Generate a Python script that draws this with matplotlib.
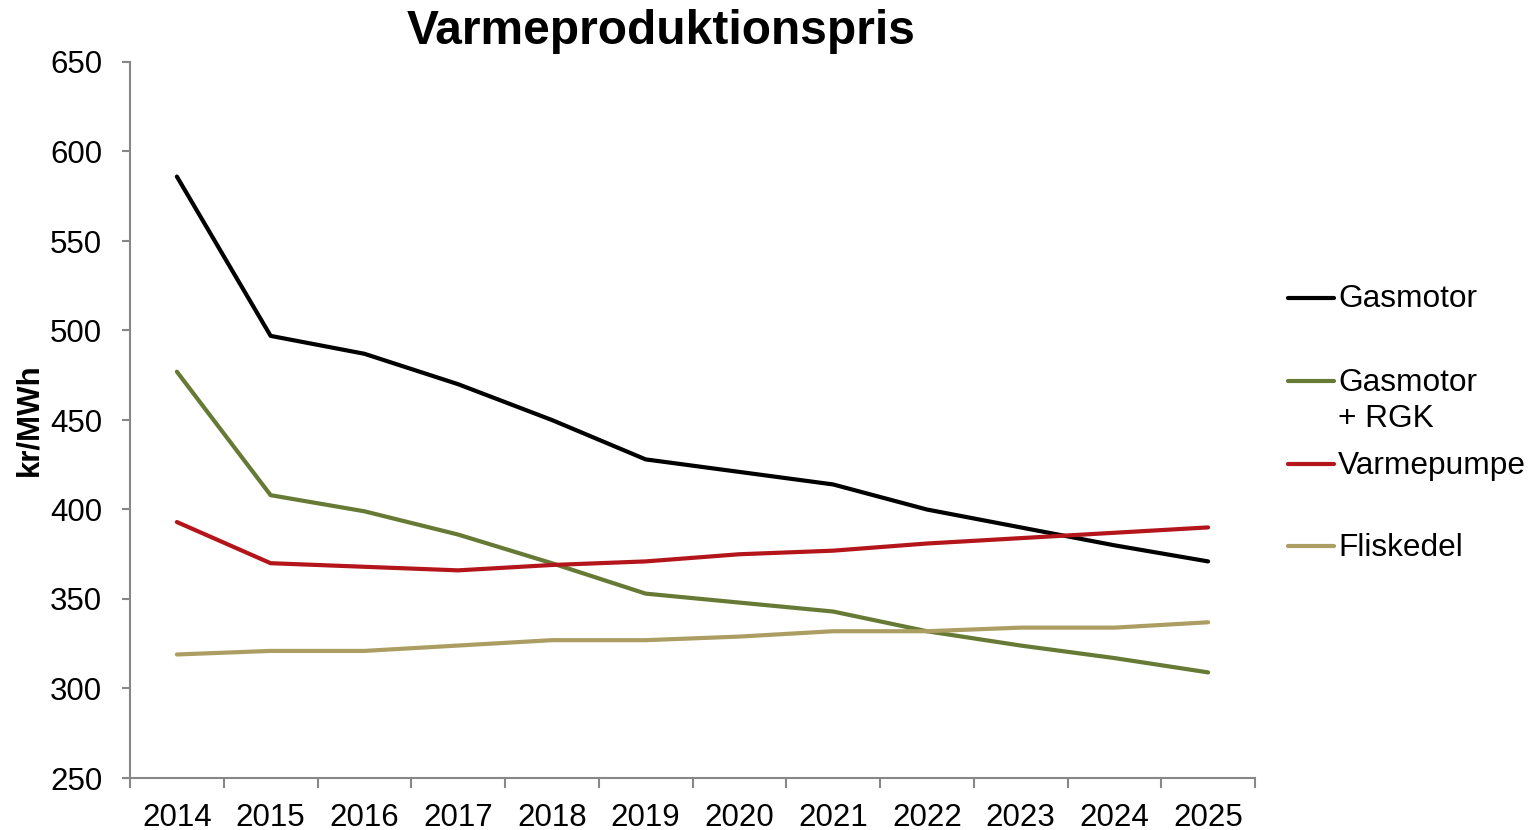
import numpy as np
import matplotlib
matplotlib.use('Agg')
import matplotlib.pyplot as plt
from matplotlib.lines import Line2D

plt.rcParams['font.family'] = ['Liberation Sans', 'DejaVu Sans']

# Data
years = ['2014', '2015', '2016', '2017', '2018', '2019',
         '2020', '2021', '2022', '2023', '2024', '2025']
gasmotor = [586, 497, 487, 470, 450, 428, 421, 414, 400, 390, 380, 371]
gasmotor_rgk = [477, 408, 399, 386, 370, 353, 348, 343, 332, 324, 317, 309]
varmepumpe = [393, 370, 368, 366, 369, 371, 375, 377, 381, 384, 387, 390]
fliskedel = [319, 321, 321, 324, 327, 327, 329, 332, 332, 334, 334, 337]

series_names = ['Gasmotor', 'Gasmotor\n+ RGK', 'Varmepumpe', 'Fliskedel']
series_data = [gasmotor, gasmotor_rgk, varmepumpe, fliskedel]
colors = ['#000000', '#677A35', '#B3151B', '#AC9D63']

fig = plt.figure(figsize=(15.35, 8.3), dpi=100)
ax = fig.add_axes([130 / 1535, 52 / 830, 1125 / 1535, 716 / 830])

x = np.arange(len(years))
for vals, c in zip(series_data, colors):
    ax.plot(x, vals, color=c, lw=3, solid_capstyle='round', solid_joinstyle='round')

ax.set_xlim(-0.5, len(years) - 0.5)
ax.set_ylim(250, 650)
ax.set_yticks(np.arange(250, 651, 50))
ax.set_xticks(x)
ax.set_xticklabels(years)
ax.set_xticks(np.arange(-0.5, len(years)), minor=True)

grey = '#878787'
for side in ['top', 'right']:
    ax.spines[side].set_visible(False)
for side in ['left', 'bottom']:
    ax.spines[side].set_color(grey)
    ax.spines[side].set_linewidth(1.5)

ax.tick_params(axis='x', which='major', length=0, pad=18, labelsize=22.5)
ax.tick_params(axis='x', which='minor', length=7.5, width=1.5, color=grey)
ax.tick_params(axis='y', length=6, width=1.5, color=grey, pad=14, labelsize=22.5)

ax.set_ylabel('kr/MWh', fontsize=22.5, fontweight='bold', labelpad=4)

fig.text(661 / 1535, 1 - 44 / 830, 'Varmeproduktionspris', fontsize=34.5,
         fontweight='bold', ha='center', va='baseline')

# legend drawn by hand to mimic the Excel layout
legend_y = [299, 401, 466, 548]
handle_y = [298, 381, 464, 546]
for name, c, ty, hy in zip(series_names, colors, legend_y, handle_y):
    fig.add_artist(Line2D([1288 / 1535, 1334 / 1535], [1 - hy / 830, 1 - hy / 830],
                          color=c, lw=3, solid_capstyle='round',
                          transform=fig.transFigure))
    fig.text(1338 / 1535, 1 - ty / 830, name, fontsize=22.8, ha='left',
             va='center', linespacing=1.3)

fig.savefig('out.png', dpi=100)
